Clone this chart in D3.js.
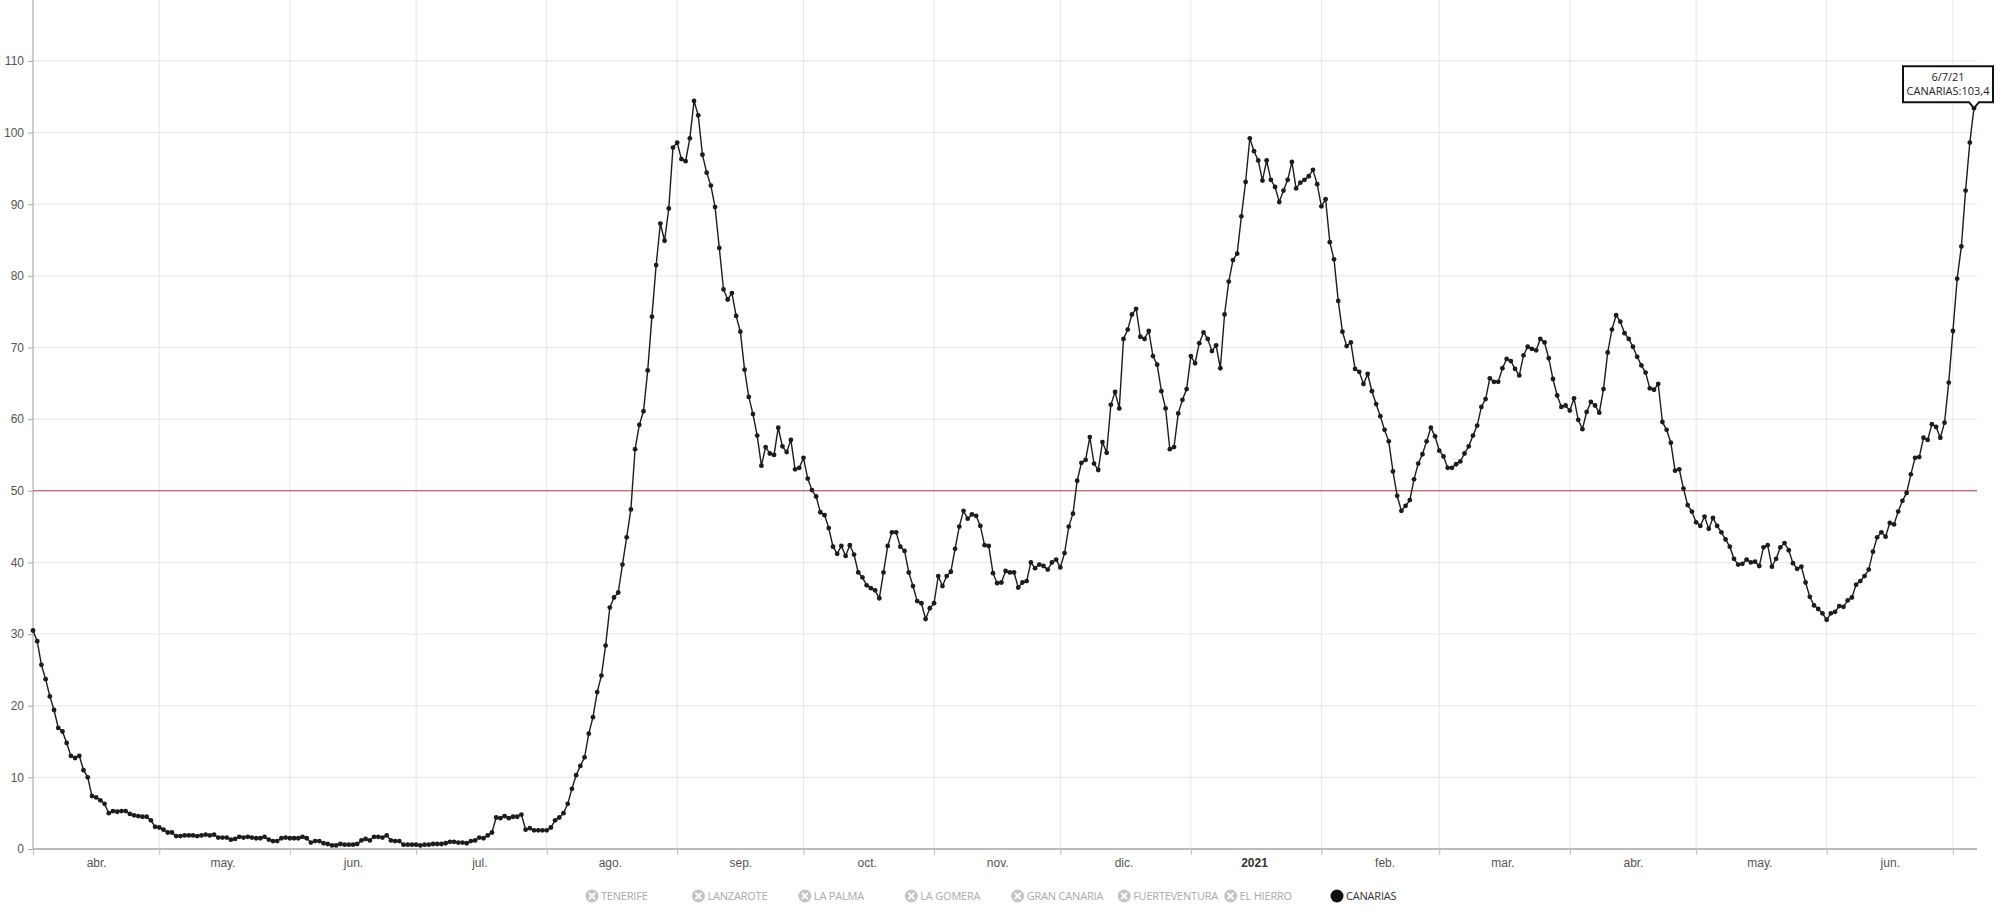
<!DOCTYPE html>
<html>
<head>
<meta charset="utf-8">
<script src="https://cdn.jsdelivr.net/npm/d3@7"></script>
<style>
body { margin: 0; background: #fff; }
svg { font-family: "Open Sans", sans-serif; }
</style>
</head>
<body>
<svg id="chart" width="2000" height="915"></svg>
<script>
// incidencia acumulada 7 dias, CANARIAS, valores diarios desde 1/4/20
const startDate = "2020-04-01";

const abr20 = [30.5, 29.0, 25.7, 23.7, 21.3, 19.4, 16.9, 16.4, 14.8, 13.0, 12.7, 13.0, 11.0, 10.0, 7.4, 7.2, 6.8, 6.3, 5.0, 5.3, 5.2, 5.3, 5.3, 4.9, 4.7, 4.6, 4.5, 4.5, 4.0, 3.1];
const may20 = [3.0, 2.7, 2.3, 2.3, 1.8, 1.8, 1.9, 1.9, 1.9, 1.8, 1.9, 2.0, 1.9, 2.0, 1.6, 1.6, 1.6, 1.3, 1.4, 1.7, 1.6, 1.7, 1.6, 1.5, 1.5, 1.7, 1.3, 1.1, 1.1, 1.5, 1.6];
const jun20 = [1.5, 1.5, 1.5, 1.7, 1.5, 0.9, 1.1, 1.1, 0.8, 0.7, 0.5, 0.5, 0.7, 0.6, 0.6, 0.6, 0.7, 1.2, 1.4, 1.2, 1.7, 1.7, 1.6, 1.9, 1.2, 1.1, 1.1, 0.6, 0.6, 0.6];
const jul20 = [0.6, 0.5, 0.6, 0.6, 0.7, 0.7, 0.7, 0.8, 1.0, 1.0, 0.9, 0.9, 0.8, 1.1, 1.2, 1.6, 1.5, 1.9, 2.3, 4.4, 4.3, 4.6, 4.3, 4.5, 4.5, 4.8, 2.7, 2.9, 2.6, 2.6, 2.6];
const ago20 = [2.6, 3.0, 4.0, 4.4, 5.0, 6.3, 8.4, 10.3, 11.6, 12.8, 16.1, 18.4, 21.9, 24.2, 28.4, 33.7, 35.1, 35.8, 39.7, 43.5, 47.4, 55.8, 59.2, 61.1, 66.8, 74.3, 81.5, 87.3, 84.9, 89.4, 97.9];
const sep20 = [98.6, 96.3, 96.0, 99.2, 104.4, 102.4, 96.9, 94.4, 92.6, 89.6, 83.9, 78.1, 76.7, 77.6, 74.4, 72.2, 66.9, 63.1, 60.7, 57.7, 53.5, 56.1, 55.2, 55.0, 58.8, 56.2, 55.4, 57.1, 53.0, 53.2];
const oct20 = [54.6, 51.7, 50.1, 49.2, 47.0, 46.6, 44.8, 42.2, 41.2, 42.3, 40.9, 42.4, 41.1, 38.6, 37.9, 36.8, 36.4, 36.1, 35.0, 38.6, 42.3, 44.2, 44.2, 42.2, 41.6, 38.6, 36.7, 34.6, 34.3, 32.1, 33.6];
const nov20 = [34.3, 38.1, 36.7, 38.1, 38.7, 41.9, 45.0, 47.2, 46.1, 46.7, 46.5, 45.1, 42.4, 42.3, 38.5, 37.1, 37.2, 38.8, 38.6, 38.6, 36.5, 37.2, 37.4, 40.0, 39.2, 39.7, 39.5, 39.0, 40.0, 40.4];
const dic20 = [39.3, 41.3, 45.0, 46.8, 51.4, 53.9, 54.3, 57.5, 53.8, 52.9, 56.8, 55.3, 62.0, 63.8, 61.5, 71.2, 72.5, 74.6, 75.4, 71.5, 71.2, 72.3, 68.8, 67.6, 63.9, 61.5, 55.8, 56.1, 60.8, 62.7, 64.2];
const ene21 = [68.8, 67.8, 70.6, 72.1, 71.2, 69.5, 70.3, 67.1, 74.6, 79.2, 82.2, 83.1, 88.3, 93.1, 99.2, 97.4, 96.1, 93.3, 96.1, 93.4, 92.4, 90.3, 91.9, 93.4, 95.9, 92.2, 93.0, 93.4, 93.9, 94.8, 92.8];
const feb21 = [89.7, 90.7, 84.7, 82.3, 76.5, 72.2, 70.2, 70.7, 67.0, 66.6, 64.9, 66.3, 63.9, 62.1, 60.4, 58.5, 56.9, 52.7, 49.3, 47.2, 47.9, 48.7, 51.6, 53.8, 55.1, 56.9, 58.8, 57.6];
const mar21 = [55.6, 54.8, 53.2, 53.2, 53.7, 54.1, 55.2, 56.2, 57.7, 59.1, 61.7, 62.8, 65.7, 65.2, 65.2, 67.1, 68.4, 68.1, 67.0, 66.1, 68.9, 70.1, 69.8, 69.6, 71.2, 70.7, 68.5, 65.6, 63.3, 61.7, 61.9];
const abr21 = [61.2, 62.9, 59.9, 58.6, 61.0, 62.4, 61.9, 60.9, 64.2, 69.3, 72.5, 74.5, 73.6, 72.0, 71.2, 70.1, 68.7, 67.5, 66.5, 64.3, 64.1, 64.9, 59.6, 58.5, 56.7, 52.8, 53.0, 50.3, 48.0, 47.1];
const may21 = [45.6, 45.1, 46.4, 44.7, 46.2, 45.1, 44.2, 43.2, 42.2, 40.5, 39.7, 39.8, 40.4, 40.0, 40.1, 39.5, 42.1, 42.4, 39.4, 40.5, 42.1, 42.7, 41.7, 39.9, 39.1, 39.4, 37.2, 35.2, 34.0, 33.5, 32.9];
const jun21 = [32.0, 32.9, 33.1, 33.9, 33.8, 34.7, 35.1, 36.9, 37.4, 38.1, 39.0, 41.5, 43.5, 44.2, 43.6, 45.5, 45.3, 47.1, 48.6, 49.7, 52.3, 54.6, 54.7, 57.4, 57.1, 59.3, 58.9, 57.4, 59.5, 65.1];
const jul21 = [72.3, 79.6, 84.1, 91.9, 98.6, 103.4];

const monthLabels = ["abr.", "may.", "jun.", "jul.", "ago.", "sep.", "oct.", "nov.", "dic.", "2021", "feb.", "mar.", "abr.", "may.", "jun."];
const yTicks = [0, 10, 20, 30, 40, 50, 60, 70, 80, 90, 100, 110];
const islands = ["TENERIFE", "LANZAROTE", "LA PALMA", "LA GOMERA", "GRAN CANARIA", "FUERTEVENTURA", "EL HIERRO", "CANARIAS"];
const threshold = 50;
const seriesName = "CANARIAS";

let values = [].concat(abr20, may20, jun20, jul20, ago20, sep20, oct20, nov20, dic20, ene21, feb21, mar21, abr21, may21, jun21, jul21);
let t0 = d3.timeParse("%Y-%m-%d")(startDate);
let data = values.map((v, i) => ({ date: d3.timeDay.offset(t0, i), value: v }));
let last = data[data.length - 1];

let svg = d3.select("#chart");

let x = d3.scaleTime()
    .domain([t0, last.date])
    .range([33, 1974]);

let y = d3.scaleLinear()
    .domain([0, 118.5])
    .range([849, 0]);

let plotRight = 1977;

// grid
let monthStarts = d3.timeMonth.range(t0, last.date);
svg.append("g")
    .selectAll("line")
    .data(monthStarts)
    .enter()
    .append("line")
    .attr("x1", d => x(d)).attr("x2", d => x(d))
    .attr("y1", 0).attr("y2", y(0))
    .attr("stroke", "#e6e6e6");

svg.append("g")
    .selectAll("line")
    .data(yTicks.filter(d => d > 0))
    .enter()
    .append("line")
    .attr("x1", x(t0)).attr("x2", plotRight)
    .attr("y1", d => y(d)).attr("y2", d => y(d))
    .attr("stroke", "#e6e6e6");

// y axis
let yAxis = svg.append("g")
    .attr("transform", "translate(" + x(t0) + ",0)")
    .call(d3.axisLeft(y).tickValues(yTicks).tickSize(5).tickPadding(4));
yAxis.select(".domain").attr("stroke", "#aaa").attr("d", "M0,0V" + y(0));
yAxis.selectAll(".tick line").attr("stroke", "#aaa");
yAxis.selectAll("text").attr("fill", "#555").style("font-size", "12px");

// x axis: ticks on month starts, labels at mid month
let xAxis = svg.append("g")
    .attr("transform", "translate(0," + y(0) + ")")
    .call(d3.axisBottom(x).tickValues(monthStarts).tickFormat("").tickSize(6).tickSizeOuter(0));
xAxis.select(".domain").attr("stroke", "#bbb").attr("stroke-width", 2).attr("d", "M" + x(t0) + ",0H" + plotRight);
xAxis.selectAll(".tick line").attr("stroke", "#bbb");

let midMonths = monthStarts.slice(0, monthLabels.length).map(d => d3.timeDay.offset(d, 15));
let xLabels = svg.append("g")
    .attr("transform", "translate(0," + y(0) + ")")
    .call(d3.axisBottom(x).tickValues(midMonths).tickSize(0).tickPadding(9)
        .tickFormat((d, i) => monthLabels[i]));
xLabels.select(".domain").remove();
xLabels.selectAll("text")
    .style("font-size", "12px")
    .style("font-weight", (d, i) => monthLabels[i] === "2021" ? "bold" : "normal")
    .attr("fill", (d, i) => monthLabels[i] === "2021" ? "#333" : "#555");

// threshold line
svg.append("line")
    .attr("x1", x(t0)).attr("x2", plotRight)
    .attr("y1", y(threshold)).attr("y2", y(threshold))
    .attr("stroke", "#a9454b")
    .attr("stroke-width", 1.1);

// series
let line = d3.line()
    .x(d => x(d.date))
    .y(d => y(d.value));

svg.append("path")
    .datum(data)
    .attr("d", line)
    .attr("fill", "none")
    .attr("stroke", "#1c1c1c")
    .attr("stroke-width", 1.4);

svg.append("g")
    .selectAll("circle")
    .data(data)
    .enter()
    .append("circle")
    .attr("cx", d => x(d.date))
    .attr("cy", d => y(d.value))
    .attr("r", 2.4)
    .attr("fill", "#1c1c1c");

// tooltip on the last point
let tx = x(last.date), ty = y(last.value);
let tip = svg.append("g").attr("transform", "translate(" + tx + "," + ty + ")");
let bw = 90, bh = 36, right = 19, gap = 6;
tip.append("path")
    .attr("d", "M" + (right - bw) + "," + (-gap - bh) + "H" + right + "V" + (-gap) +
        "H5L0,0L-5," + (-gap) + "H" + (right - bw) + "Z")
    .attr("fill", "#fff")
    .attr("stroke", "#111")
    .attr("stroke-width", 2);
let fmt = d3.timeFormat("%-d/%-m/%y");
tip.append("text")
    .attr("x", right - bw / 2).attr("y", -gap - bh + 15)
    .attr("text-anchor", "middle")
    .style("font-size", "11px").attr("fill", "#222")
    .text(fmt(last.date));
tip.append("text")
    .attr("x", right - bw / 2).attr("y", -gap - bh + 29)
    .attr("text-anchor", "middle")
    .style("font-size", "11px").attr("fill", "#222")
    .text(seriesName + ":" + d3.format(".1f")(last.value).replace(".", ","));

// legend
let legendX = d3.scalePoint().domain(islands).range([592, 1337]);
let items = svg.append("g")
    .selectAll("g")
    .data(islands)
    .enter()
    .append("g")
    .attr("transform", d => "translate(" + legendX(d) + ",896)");

items.append("circle")
    .attr("r", 6.5)
    .attr("fill", d => d === seriesName ? "#111" : "#c4c4c4");

items.filter(d => d !== seriesName)
    .append("path")
    .attr("d", "M-3,-3L3,3M3,-3L-3,3")
    .attr("stroke", "#fff")
    .attr("stroke-width", 1.8);

items.append("text")
    .attr("x", 9)
    .attr("dy", "0.35em")
    .style("font-size", "11px")
    .style("letter-spacing", "-0.2px")
    .attr("fill", d => d === seriesName ? "#333" : "#aaa")
    .text(d => d);
</script>
</body>
</html>
